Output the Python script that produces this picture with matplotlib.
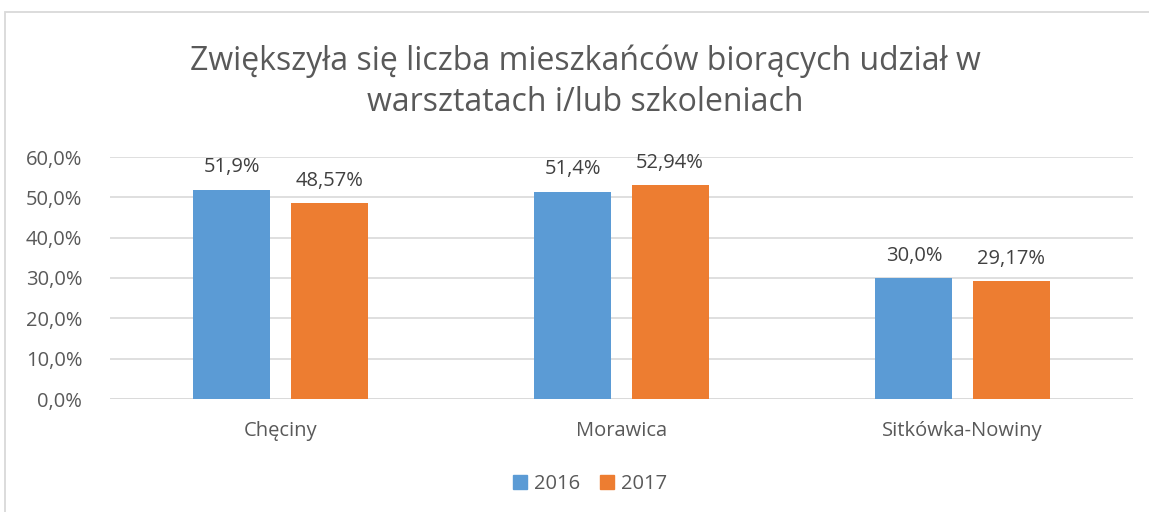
import matplotlib.pyplot as plt
from matplotlib.patches import Rectangle, Patch
import numpy as np

plt.rcParams['font.family'] = ['Open Sans', 'DejaVu Sans']

# survey results per municipality
gminy = ['Chęciny', 'Morawica', 'Sitkówka-Nowiny']
lata = ['2016', '2017']
wyniki_2016 = [51.9, 51.4, 30.0]
wyniki_2017 = [48.57, 52.94, 29.17]
etykiety_2016 = ['51,9%', '51,4%', '30,0%']
etykiety_2017 = ['48,57%', '52,94%', '29,17%']
osie_y = [0, 10, 20, 30, 40, 50, 60]

kolory = ['#5b9bd5', '#ed7d31']
szary = '#595959'
fs = 14.5

fig = plt.figure(figsize=(11.49, 5.12), dpi=100)
fig.patch.set_facecolor('white')

# frame of the chart object
fig.patches.append(Rectangle((5 / 1149, -0.1), 1.2, (512 - 12) / 512 + 0.1,
                             transform=fig.transFigure, fill=False,
                             edgecolor='#d9d9d9', linewidth=1.3))

ax = fig.add_axes([110 / 1149, (512 - 399) / 512, (1133 - 110) / 1149, 242 / 512])

x = np.arange(len(gminy))
szer = 0.226
odstep = 0.059
b1 = ax.bar(x - (szer + odstep) / 2, wyniki_2016, szer, color=kolory[0], zorder=3)
b2 = ax.bar(x + (szer + odstep) / 2, wyniki_2017, szer, color=kolory[1], zorder=3)

for bars, labels in ((b1, etykiety_2016), (b2, etykiety_2017)):
    for bar, lab in zip(bars, labels):
        ax.annotate(lab, (bar.get_x() + bar.get_width() / 2, bar.get_height()),
                    xytext=(0, 9), textcoords='offset points', ha='center',
                    va='bottom', fontsize=fs, color='#404040')

ax.set_xlim(-0.5, len(gminy) - 0.5)
ax.set_ylim(0, 60)
ax.set_yticks(osie_y)
ax.set_yticklabels([f'{v},0%' for v in osie_y])
ax.set_xticks(x)
ax.set_xticklabels(gminy)
ax.tick_params(axis='both', length=0, labelsize=fs, labelcolor=szary)
ax.tick_params(axis='x', pad=16)
ax.tick_params(axis='y', pad=20)
ax.grid(axis='y', color='#d9d9d9', linewidth=1.2, zorder=0)
for s in ax.spines.values():
    s.set_visible(False)
ax.axhline(0, color='#d9d9d9', linewidth=1.2, zorder=1)

fig.text(585 / 1149, 1 - 82 / 512,
         'Zwiększyła się liczba mieszkańców biorących udział w\nwarsztatach i/lub szkoleniach',
         ha='center', va='center', fontsize=23, color=szary, linespacing=1.3)

fig.legend(handles=[Patch(color=kolory[0], label=lata[0]),
                    Patch(color=kolory[1], label=lata[1])],
           loc='center', bbox_to_anchor=(590 / 1149, 1 - 484 / 512), ncol=2,
           frameon=False, fontsize=fs, labelcolor=szary, handlelength=0.7,
           handleheight=0.7, handletextpad=0.35, columnspacing=1.0)

fig.savefig('out.png', dpi=100, facecolor='white')
